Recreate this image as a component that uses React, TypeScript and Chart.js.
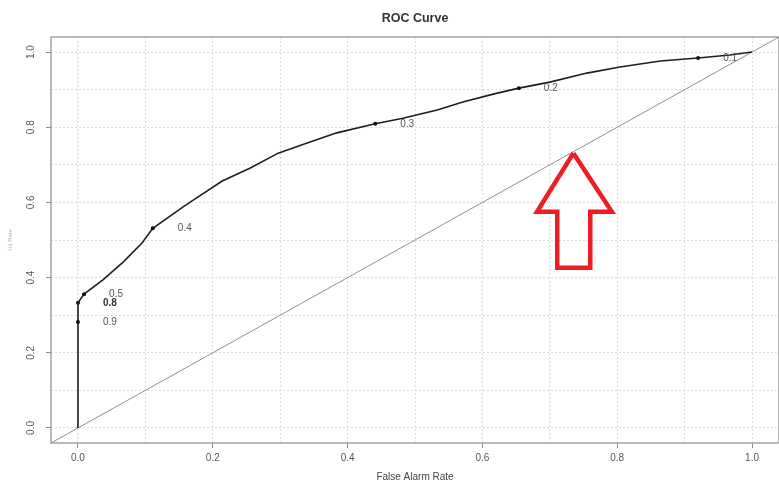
import React, { useEffect, useRef } from "react";
import { Chart, registerables } from "chart.js";
Chart.register(...registerables);

// ROC curve (false alarm rate vs hit rate)
const ROC_FAR = [0, 0, 0, 0.009, 0.037, 0.067, 0.095, 0.111, 0.156, 0.171, 0.214, 0.255, 0.297, 0.34, 0.384, 0.441, 0.482, 0.533, 0.571, 0.616, 0.654, 0.7, 0.755, 0.804, 0.864, 0.92, 0.967, 1.0];
const ROC_HIT = [0, 0.282, 0.333, 0.356, 0.394, 0.441, 0.492, 0.531, 0.588, 0.606, 0.657, 0.691, 0.731, 0.758, 0.785, 0.809, 0.824, 0.846, 0.867, 0.888, 0.904, 0.92, 0.944, 0.96, 0.976, 0.984, 0.992, 1.0];

// Threshold markers
const THRESH_LABELS = ["0.1", "0.2", "0.3", "0.4", "0.5", "0.8", "0.9"];
const THRESH_FAR = [0.92, 0.654, 0.441, 0.111, 0.009, 0, 0];
const THRESH_HIT = [0.984, 0.904, 0.809, 0.531, 0.356, 0.333, 0.282];

// Reference diagonal
const DIAG = [-0.04, 1.04];

// Red arrow annotation (outline, closed)
const ARROW_X = [0.735, 0.792, 0.76, 0.76, 0.711, 0.711, 0.681, 0.735];
const ARROW_Y = [0.731, 0.575, 0.575, 0.426, 0.426, 0.575, 0.575, 0.731];

// Axes
const AXIS_MIN = -0.04;
const AXIS_MAX = 1.04;
const GRID_VALUES = [0, 0.1, 0.2, 0.3, 0.4, 0.5, 0.6, 0.7, 0.8, 0.9, 1.0];
const TICK_VALUES = [0, 0.2, 0.4, 0.6, 0.8, 1.0];
const TICK_LABELS = ["0.0", "0.2", "0.4", "0.6", "0.8", "1.0"];

const TITLE = "ROC Curve";
const X_TITLE = "False Alarm Rate";
const Y_TITLE = "Hit Rate";

const FONT = "'Liberation Sans', Arial, sans-serif";

const tickIndex = (v: number) => TICK_VALUES.findIndex((t) => Math.abs(t - v) < 1e-6);

const framePlugin = {
  id: "frame",
  beforeDatasetsDraw(chart: any) {
    const { ctx, chartArea } = chart;
    ctx.save();
    ctx.strokeStyle = "#a3a3a3";
    ctx.lineWidth = 1.5;
    ctx.strokeRect(chartArea.left, chartArea.top, chartArea.right - chartArea.left, chartArea.bottom - chartArea.top);
    ctx.restore();
  },
};

const labelPlugin = {
  id: "threshLabels",
  afterDatasetsDraw(chart: any) {
    const { ctx, scales } = chart;
    ctx.save();
    ctx.textAlign = "center";
    ctx.textBaseline = "middle";
    THRESH_LABELS.forEach((lab, i) => {
      const px = scales.x.getPixelForValue(THRESH_FAR[i]) + 32;
      const py = scales.y.getPixelForValue(THRESH_HIT[i]);
      ctx.fillStyle = lab === "0.8" ? "#333" : "#555";
      ctx.font = (lab === "0.8" ? "bold " : "") + "10px " + FONT;
      ctx.fillText(lab, px, py);
    });
    ctx.restore();
  },
};

export default function App() {
  const ref = useRef<HTMLCanvasElement>(null);
  useEffect(() => {
    document.body.style.margin = "0";
    const canvas = ref.current;
    if (!canvas) return;
    const axisCommon = () => ({
      type: "linear" as const,
      min: AXIS_MIN,
      max: AXIS_MAX,
      afterBuildTicks: (scale: any) => {
        scale.ticks = GRID_VALUES.map((v) => ({ value: v }));
      },
      grid: {
        color: "#dcdcdc",
        lineWidth: 1,
        drawTicks: true,
        tickLength: 5,
        tickWidth: 1,
        tickColor: (c: any) => (c.tick && tickIndex(c.tick.value) >= 0 ? "#8c8c8c" : "rgba(0,0,0,0)"),
      },
      border: { display: false, dash: [2, 2] },
      ticks: {
        autoSkip: false,
        color: "#555",
        font: { family: FONT, size: 10 },
        callback: (v: any) => {
          const j = tickIndex(Number(v));
          return j >= 0 ? TICK_LABELS[j] : "";
        },
      },
    });
    const xAxis: any = axisCommon();
    xAxis.position = "bottom";
    xAxis.ticks.maxRotation = 0;
    xAxis.ticks.minRotation = 0;
    xAxis.ticks.padding = 4;
    xAxis.title = { display: true, text: X_TITLE, color: "#444", font: { family: FONT, size: 10 }, padding: { top: 0, bottom: 0 } };
    xAxis.afterFit = (s: any) => {
      s.height = 40;
      s.paddingLeft = 0;
      s.paddingRight = 0;
    };
    const yAxis: any = axisCommon();
    yAxis.position = "left";
    yAxis.ticks.minRotation = 90;
    yAxis.ticks.maxRotation = 90;
    yAxis.ticks.crossAlign = "center";
    yAxis.ticks.padding = 8;
    yAxis.title = { display: true, text: Y_TITLE, color: "#9db7de", font: { family: FONT, size: 6 }, padding: { top: 7, bottom: 0 } };
    yAxis.afterFit = (s: any) => {
      s.width = 51;
    };

    const chart = new Chart(canvas, {
      type: "scatter",
      data: {
        datasets: [
          {
            type: "line",
            data: ARROW_X.map((x, i) => ({ x, y: ARROW_Y[i] })),
            borderColor: "#ee1c25",
            borderWidth: 4.5,
            pointRadius: 0,
            fill: false,
            tension: 0,
            borderJoinStyle: "miter",
          } as any,
          {
            type: "scatter",
            data: THRESH_FAR.map((x, i) => ({ x, y: THRESH_HIT[i] })),
            backgroundColor: "#111",
            borderColor: "#111",
            pointRadius: 2,
            borderWidth: 0,
          },
          {
            type: "line",
            data: ROC_FAR.map((x, i) => ({ x, y: ROC_HIT[i] })),
            borderColor: "#1e1e1e",
            borderWidth: 1.6,
            pointRadius: 0,
            fill: false,
            tension: 0,
          } as any,
          {
            type: "line",
            data: DIAG.map((v) => ({ x: v, y: v })),
            borderColor: "#8f8f8f",
            borderWidth: 1,
            pointRadius: 0,
            fill: false,
          } as any,
        ],
      },
      options: {
        animation: false,
        responsive: false,
        maintainAspectRatio: false,
        layout: { padding: 0, autoPadding: false },
        plugins: {
          legend: { display: false },
          tooltip: { enabled: false },
          title: {
            display: true,
            fullSize: false,
            text: TITLE,
            color: "#333",
            font: { family: FONT, size: 12.5, weight: "bold" },
            padding: { top: 11, bottom: 11 },
          },
        },
        scales: { x: xAxis, y: yAxis },
      },
      plugins: [framePlugin, labelPlugin],
    });
    return () => chart.destroy();
  }, []);
  return <canvas ref={ref} width={779} height={483} style={{ display: "block", width: 779, height: 483 }} />;
}
